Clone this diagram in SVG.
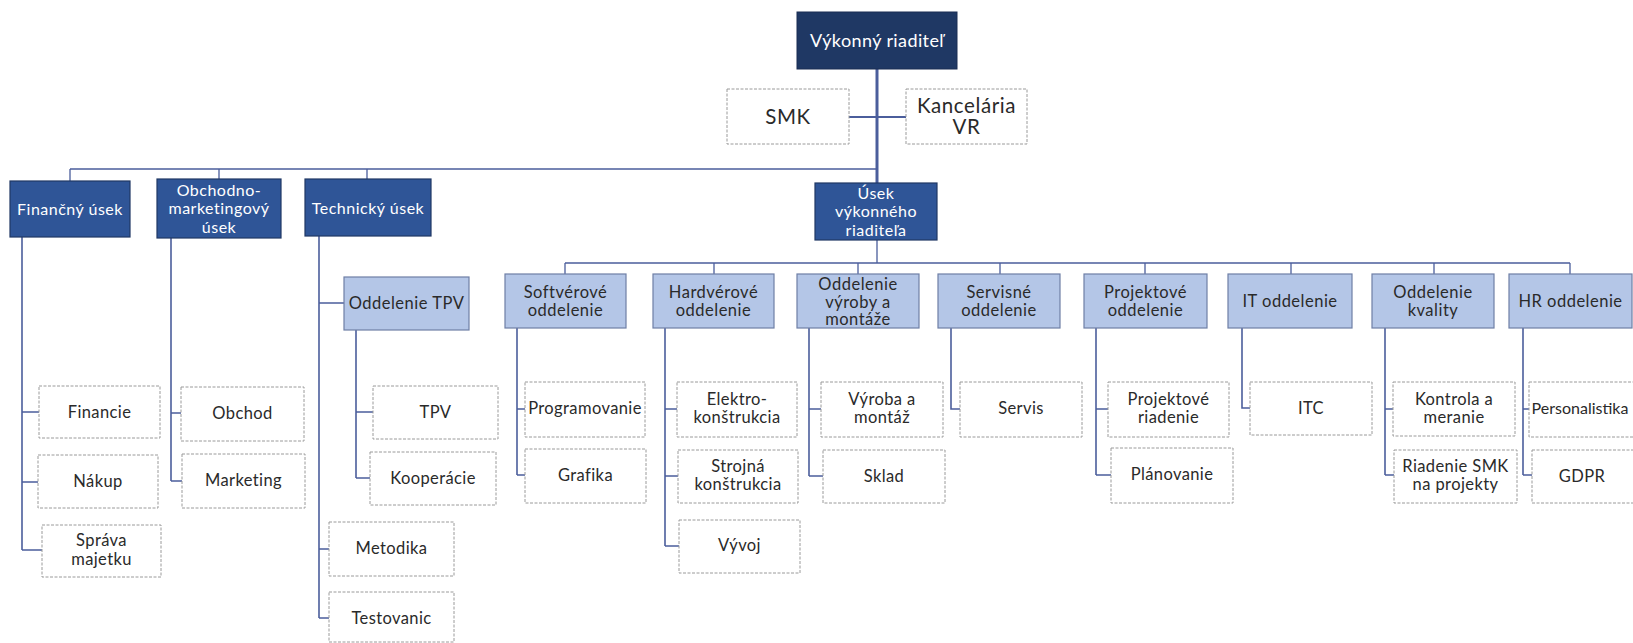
<svg xmlns="http://www.w3.org/2000/svg" width="1633" height="643" viewBox="0 0 1633 643">
<style>
text{font-family:Lato,"Open Sans","Liberation Sans",sans-serif;text-anchor:middle}
.ceo{fill:#1f3864;stroke:#1a2d52;stroke-width:1}
.div{fill:#2f5597;stroke:#203864;stroke-width:1.2}
.dep{fill:#b4c6e7;stroke:#6e7fa6;stroke-width:1.2}
.leaf{fill:#ffffff;stroke:#9a9a9a;stroke-width:1;stroke-dasharray:3 1.5}
.tw{fill:#ffffff;font-size:16px;letter-spacing:0.5px}
.td{fill:#2a2a2a;font-size:16.5px;letter-spacing:0.5px}
.tl{fill:#2a2a2a;font-size:16.5px;letter-spacing:0.4px}
.big{fill:#2a2a2a;font-size:20.5px;letter-spacing:0.6px}
.con path{fill:none;stroke:#4b5e9c;stroke-width:1.6}
</style>
<rect width="1633" height="643" fill="#ffffff"/>
<g class="con" id="connectors">
<path d="M877 69V183" style="stroke-width:3"/>
<path d="M849 117H906" style="stroke-width:2"/>
<path d="M70 169H877M70 169V181M219 169V179M367 169V179" style="stroke-width:1.3"/>
<path d="M877 240V263M565 263H1570M565 263V274M714 263V274M858 263V274M1000 263V274M1145 263V274M1291 263V274M1434 263V274M1570 263V274" style="stroke-width:1.3"/>
<path d="M22 237V550M22 412H39M22 482H38M22 550H42"/>
<path d="M171 238V481M171 413H181M171 481H182"/>
<path d="M319 236V618M319 303H344M319 549H329M319 618H329"/>
<path d="M356 330V478M356 412H373M356 478H370"/>
<path d="M517 328V475M517 409H525M517 475H525"/>
<path d="M665 328V546M665 409H677M665 476H678M665 546H679"/>
<path d="M809 328V476M809 409H821M809 476H823"/>
<path d="M951 328V409H960"/>
<path d="M1096 328V475M1096 409H1108M1096 475H1111"/>
<path d="M1242 328V408H1250"/>
<path d="M1385 328V475M1385 409H1393M1385 475H1394"/>
<path d="M1523 328V475M1523 409H1529M1523 475H1532"/>
</g>
<g id="ceo"><rect class="ceo" x="797" y="12" width="160" height="57"/><text class="tw" x="877" y="47" style="font-size:18px;letter-spacing:0.4px">Výkonný riaditeľ</text></g>
<g id="smk"><rect class="leaf" x="727" y="89" width="122" height="55"/><text class="big" x="788" y="124">SMK</text></g>
<g id="kancelaria"><rect class="leaf" x="906" y="89" width="121" height="55"/><text class="big" x="966.5" y="113">Kancelária</text><text class="big" x="966.5" y="134">VR</text></g>
<g id="financny"><rect class="div" x="10" y="181" width="120" height="56"/><text class="tw" x="70" y="215">Finančný úsek</text></g>
<g id="obchodno"><rect class="div" x="157" y="179" width="124" height="59"/><text class="tw" x="219" y="196">Obchodno-</text><text class="tw" x="219" y="214">marketingový</text><text class="tw" x="219" y="233">úsek</text></g>
<g id="technicky"><rect class="div" x="305" y="179" width="126" height="57"/><text class="tw" x="368" y="214">Technický úsek</text></g>
<g id="usek-vr"><rect class="div" x="815" y="183" width="122" height="57"/><text class="tw" x="876" y="199">Úsek</text><text class="tw" x="876" y="217">výkonného</text><text class="tw" x="876" y="236">riaditeľa</text></g>
<g id="odd-tpv"><rect class="dep" x="344" y="277" width="125" height="53"/><text class="td" x="406.5" y="309">Oddelenie TPV</text></g>
<g id="softverove"><rect class="dep" x="505" y="274" width="121" height="54"/><text class="td" x="565.5" y="298">Softvérové</text><text class="td" x="565.5" y="316">oddelenie</text></g>
<g id="hardverove"><rect class="dep" x="653" y="274" width="121" height="54"/><text class="td" x="713.5" y="298">Hardvérové</text><text class="td" x="713.5" y="316">oddelenie</text></g>
<g id="vyroba"><rect class="dep" x="797" y="274" width="122" height="54"/><text class="td" x="858" y="290">Oddelenie</text><text class="td" x="858" y="308">výroby a</text><text class="td" x="858" y="325">montáže</text></g>
<g id="servisne"><rect class="dep" x="938" y="274" width="122" height="54"/><text class="td" x="999" y="298">Servisné</text><text class="td" x="999" y="316">oddelenie</text></g>
<g id="projektove"><rect class="dep" x="1084" y="274" width="123" height="54"/><text class="td" x="1145.5" y="298">Projektové</text><text class="td" x="1145.5" y="316">oddelenie</text></g>
<g id="it"><rect class="dep" x="1228" y="274" width="124" height="54"/><text class="td" x="1290" y="307">IT oddelenie</text></g>
<g id="kvality"><rect class="dep" x="1372" y="274" width="122" height="54"/><text class="td" x="1433" y="298">Oddelenie</text><text class="td" x="1433" y="316">kvality</text></g>
<g id="hr"><rect class="dep" x="1509" y="274" width="123" height="54"/><text class="td" x="1570.5" y="307">HR oddelenie</text></g>
<g id="financie"><rect class="leaf" x="39" y="386" width="121" height="52"/><text class="tl" x="99.5" y="418">Financie</text></g>
<g id="nakup"><rect class="leaf" x="38" y="455" width="120" height="53"/><text class="tl" x="98" y="487">Nákup</text></g>
<g id="sprava"><rect class="leaf" x="42" y="525" width="119" height="52"/><text class="tl" x="101.5" y="546">Správa</text><text class="tl" x="101.5" y="565">majetku</text></g>
<g id="obchod"><rect class="leaf" x="181" y="387" width="123" height="54"/><text class="tl" x="242.5" y="419">Obchod</text></g>
<g id="marketing"><rect class="leaf" x="182" y="454" width="123" height="54"/><text class="tl" x="243.5" y="486">Marketing</text></g>
<g id="tpv"><rect class="leaf" x="373" y="386" width="125" height="53"/><text class="tl" x="435.5" y="418">TPV</text></g>
<g id="kooperacie"><rect class="leaf" x="370" y="452" width="126" height="53"/><text class="tl" x="433" y="484">Kooperácie</text></g>
<g id="metodika"><rect class="leaf" x="329" y="522" width="125" height="54"/><text class="tl" x="391.5" y="554">Metodika</text></g>
<g id="testovanic"><rect class="leaf" x="329" y="592" width="125" height="50"/><text class="tl" x="391.5" y="624">Testovanic</text></g>
<g id="programovanie"><rect class="leaf" x="525" y="382" width="120" height="55"/><text class="tl" x="585" y="414">Programovanie</text></g>
<g id="grafika"><rect class="leaf" x="525" y="449" width="121" height="54"/><text class="tl" x="585.5" y="481">Grafika</text></g>
<g id="elektro"><rect class="leaf" x="677" y="382" width="120" height="55"/><text class="tl" x="737" y="405">Elektro-</text><text class="tl" x="737" y="423">konštrukcia</text></g>
<g id="strojna"><rect class="leaf" x="678" y="450" width="120" height="53"/><text class="tl" x="738" y="472">Strojná</text><text class="tl" x="738" y="490">konštrukcia</text></g>
<g id="vyvoj"><rect class="leaf" x="679" y="520" width="121" height="53"/><text class="tl" x="739.5" y="551">Vývoj</text></g>
<g id="vyroba-montaz"><rect class="leaf" x="821" y="382" width="122" height="55"/><text class="tl" x="882" y="405">Výroba a</text><text class="tl" x="882" y="423">montáž</text></g>
<g id="sklad"><rect class="leaf" x="823" y="450" width="122" height="53"/><text class="tl" x="884" y="482">Sklad</text></g>
<g id="servis"><rect class="leaf" x="960" y="382" width="122" height="55"/><text class="tl" x="1021" y="414">Servis</text></g>
<g id="proj-riadenie"><rect class="leaf" x="1108" y="382" width="121" height="55"/><text class="tl" x="1168.5" y="405">Projektové</text><text class="tl" x="1168.5" y="423">riadenie</text></g>
<g id="planovanie"><rect class="leaf" x="1111" y="448" width="122" height="55"/><text class="tl" x="1172" y="480">Plánovanie</text></g>
<g id="itc"><rect class="leaf" x="1250" y="382" width="122" height="53"/><text class="tl" x="1311" y="414">ITC</text></g>
<g id="kontrola"><rect class="leaf" x="1393" y="382" width="122" height="54"/><text class="tl" x="1454" y="405">Kontrola a</text><text class="tl" x="1454" y="423">meranie</text></g>
<g id="riadenie-smk"><rect class="leaf" x="1394" y="450" width="123" height="53"/><text class="tl" x="1455.5" y="472">Riadenie SMK</text><text class="tl" x="1455.5" y="490">na projekty</text></g>
<g id="personalistika"><rect class="leaf" x="1529" y="382" width="110" height="55"/><text class="tl" x="1580" y="414" style="letter-spacing:0px;font-size:16px">Personalistika</text></g>
<g id="gdpr"><rect class="leaf" x="1532" y="450" width="110" height="53"/><text class="tl" x="1582" y="482">GDPR</text></g>
</svg>
